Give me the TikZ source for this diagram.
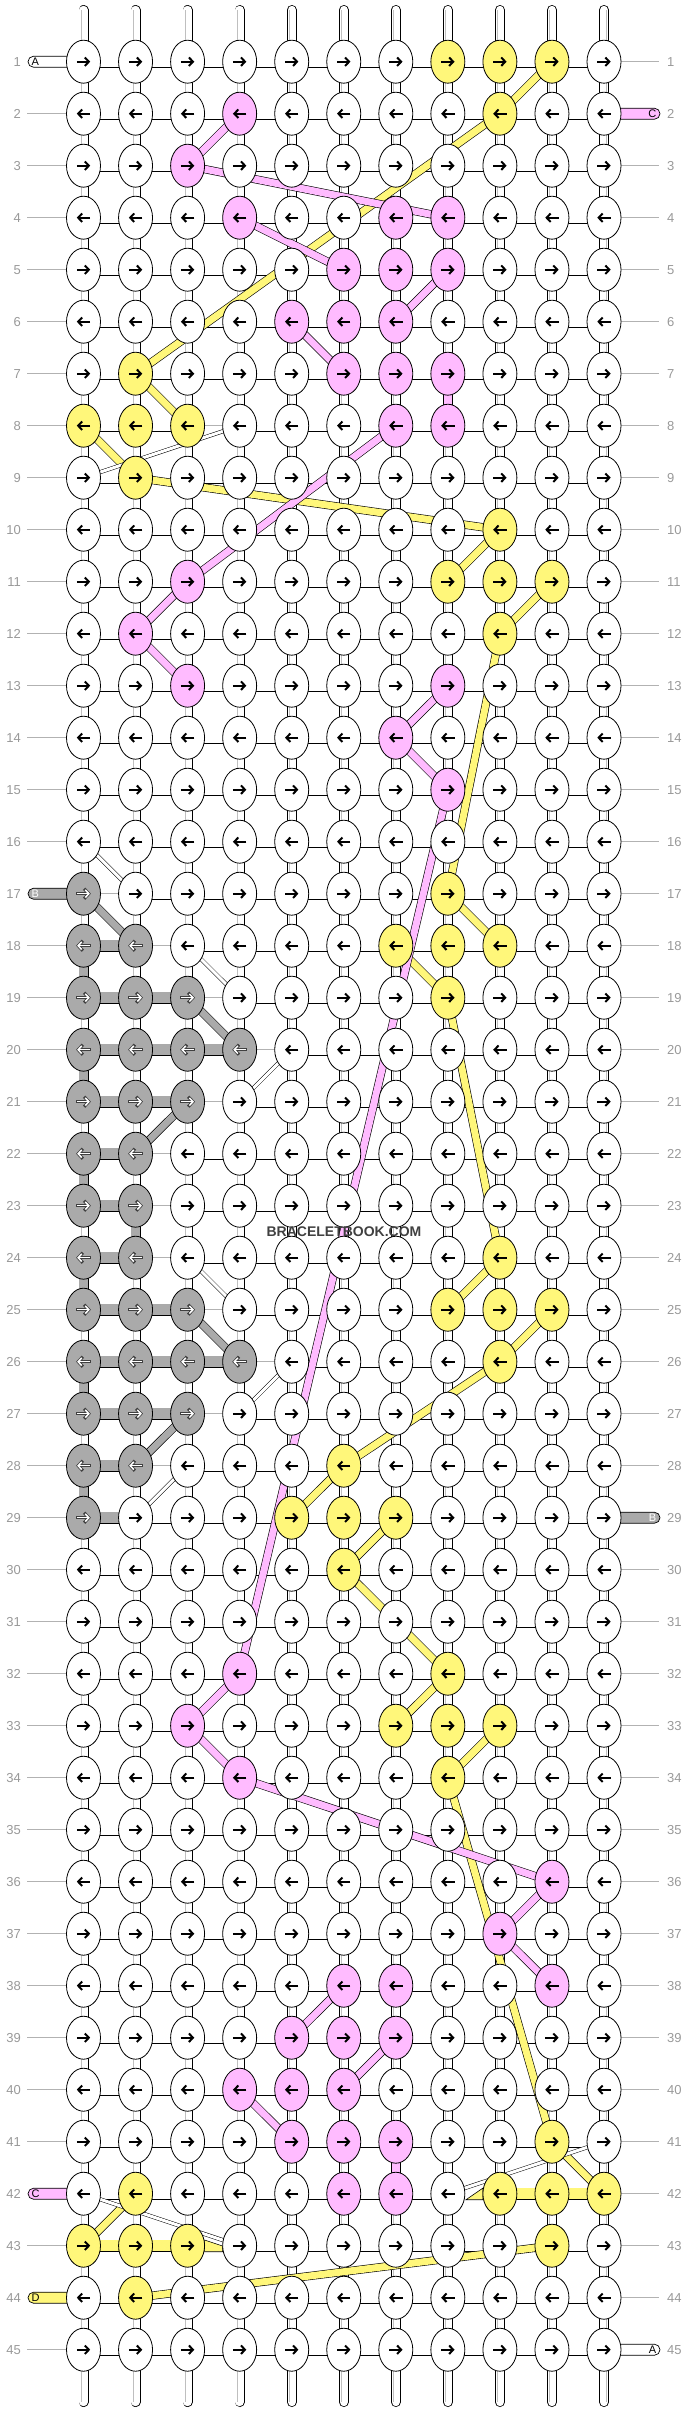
\documentclass[tikz,border=0pt]{standalone}
\usepackage{fontspec}
\setmainfont{Liberation Sans}
\usetikzlibrary{shapes.geometric, arrows.meta, positioning}
\usepackage{xcolor}
\definecolor{pkn}{HTML}{FFBBFF}
\definecolor{ykn}{HTML}{FFF77A}
\definecolor{gkn}{HTML}{AAAAAA}
\definecolor{numgray}{HTML}{999999}
\pgfdeclarelayer{strings}
\pgfdeclarelayer{threads}
\pgfsetlayers{strings,threads,main}
\newcommand\kx[1]{83.5+(#1-1)*52.05}
\newcommand\ky[1]{61.7+(#1-1)*52}
\def\gname{gkn}
\tikzset{
    knot/.style={
        ellipse, draw=black, line width=0.8pt, fill=white,
        minimum width=34pt, minimum height=43pt, inner sep=0pt
    },
    tube/.style={
        draw=black, line width=0.8pt, double=white, double distance=8.4pt, line cap=round
    },
    tubecore/.style={
        draw=black!25, line width=0.5pt, double=white, double distance=4pt
    },
    hbar/.style={
        draw=black, line width=0.7pt, double=white, double distance=10.6pt
    },
    vbar/.style={
        draw=black, line width=0.8pt, double distance=8.4pt
    },
    band/.style={
        draw=black, line width=0.6pt, double distance=7pt
    },
    pband/.style={band, double=pkn},
    yband/.style={band, double=ykn},
    gband/.style={band, double=gkn},
    wband/.style={
        draw=black, line width=0.5pt, double=white, double distance=3pt
    },
    rowline/.style={draw=black!30, line width=0.8pt},
    rownum/.style={text=numgray, font=\fontsize{13}{13}\selectfont, inner sep=0pt},
    tab/.style={draw=black, line width=0.7pt, rounded corners=5.5pt},
    tablabel/.style={font=\fontsize{11}{11}\selectfont, inner sep=0pt},
    arrowfg/.style={line width=2pt, -{Straight Barb[length=4pt,width=8.5pt]}},
    arrowbg/.style={draw=black!75, line width=3.2pt, -{Straight Barb[length=4.6pt,width=10pt]}},
    arrowwh/.style={draw=white, line width=1.5pt, -{Straight Barb[length=3.6pt,width=7.6pt]}}
}

\begin{document}
\begin{tikzpicture}[x=1pt, y=-1pt]
    \useasboundingbox (0,0) rectangle (688,2412);

    % ── colour map ──
    \foreach \r/\c in {2/4,3/3,4/4,4/7,4/8,5/6,5/7,5/8,6/5,6/6,6/7,7/6,7/7,7/8,8/7,8/8,
        11/3,12/2,13/3,13/8,14/7,15/8,32/4,33/3,34/4,36/10,37/9,38/10,38/6,38/7,
        39/5,39/6,39/7,40/4,40/5,40/6,41/5,41/6,41/7,42/6,42/7}
        {\expandafter\gdef\csname kc-\r-\c\endcsname{pkn}}
    \foreach \r/\c in {1/8,1/9,1/10,2/9,7/2,8/1,8/2,8/3,9/2,10/9,11/8,11/9,11/10,12/9,
        17/8,18/7,18/8,18/9,19/8,24/9,25/8,25/9,25/10,26/9,28/6,29/5,29/6,29/7,30/6,
        32/8,33/7,33/8,33/9,34/8,41/10,42/9,42/10,42/11,43/10,42/2,43/1,43/2,43/3,44/2}
        {\expandafter\gdef\csname kc-\r-\c\endcsname{ykn}}
    \foreach \r/\n in {17/1,18/2,19/3,20/4,21/3,22/2,23/2,24/2,25/3,26/4,27/3,28/2,29/1}
        {\foreach \c in {1,...,\n}{\expandafter\gdef\csname kc-\r-\c\endcsname{gkn}}}

    % ── knots ──
    \foreach \r in {1,...,45}{
        \ifodd\r\relax\def\kdir{1}\else\def\kdir{(-1)}\fi
        \foreach \c in {1,...,11}{
            \edef\kfill{\ifcsname kc-\r-\c\endcsname\csname kc-\r-\c\endcsname\else white\fi}
            \node[knot, fill=\kfill] (k-\r-\c) at ({\kx{\c}},{\ky{\r}}) {};
            \ifx\kfill\gname
                \draw[arrowbg] ([xshift={-7.2pt*\kdir}]k-\r-\c.center) -- ([xshift={7.4pt*\kdir}]k-\r-\c.center);
                \draw[arrowwh] ([xshift={-6.2pt*\kdir}]k-\r-\c.center) -- ([xshift={6.4pt*\kdir}]k-\r-\c.center);
            \else
                \draw[arrowfg] ([xshift={-6.7pt*\kdir}]k-\r-\c.center) -- ([xshift={6.7pt*\kdir}]k-\r-\c.center);
            \fi
        }
    }

    % ── base strings and rows ──
    \begin{pgfonlayer}{strings}
        \foreach \c in {1,...,11}{
            \coordinate (top-\c) at ({\kx{\c}},10);
            \coordinate (bot-\c) at ({\kx{\c}},2402);
            \draw[tube] (top-\c) -- (bot-\c);
            \draw[tubecore] (top-\c) -- (bot-\c);
        }
        \foreach \r in {1,...,45}
            \draw[hbar] (k-\r-1.center) -- (k-\r-11.center);

        % coloured pieces of the rows
        \foreach \r/\n in {18/2,19/3,20/4,21/3,22/2,23/2,24/2,25/3,26/4,27/3,28/2,29/2}
            \draw[hbar, double=gkn] (k-\r-1.center) -- (k-\r-\n.center);
        \draw[hbar, double=ykn] (k-42-9.center) -- (k-42-11.center);
        \draw[hbar, double=ykn] (k-43-1.center) -- (k-43-3.center);
        \foreach \a/\b/\col in {18/19/gkn,20/21/gkn,22/23/gkn,24/25/gkn,26/27/gkn,28/29/gkn}
            \draw[vbar, double=\col] (k-\a-1.center) -- (k-\b-1.center);
        \draw[vbar, double=gkn] (k-23-2.center) -- (k-24-2.center);
        \draw[vbar, double=pkn] (k-7-8.center) -- (k-8-8.center);
        \draw[vbar, double=pkn] (k-41-7.center) -- (k-42-7.center);

        % open gaps
        \foreach \r/\a/\b in {8/3/4,17/1/2,18/2/3,19/3/4,20/4/5,21/3/4,22/2/3,23/2/3,
            24/2/3,25/3/4,26/4/5,27/3/4,28/2/3}{
            \draw[white, line width=13pt] (k-\r-\a.center) -- (k-\r-\b.center);
            \draw[rowline] (k-\r-\a.center) -- (k-\r-\b.center);
        }
        \draw[white, line width=13pt] (k-42-8.center) -- (k-42-9.center);
        \draw[white, line width=13pt] (k-43-3.center) -- (k-43-4.center);
        \filldraw[fill=ykn, draw=black, line width=0.6pt] (466,2199.7) -- (483,2188) -- (483,2199.7) -- cycle;
        \filldraw[fill=ykn, draw=black, line width=0.6pt] (204.6,2240) -- (222.6,2246) -- (222.6,2251.7) -- (204.6,2251.7) -- cycle;

        % row lines
        \foreach \r in {2,3,...,16,18,19,...,41,43,45}{
            \coordinate (ll-\r) at (27,{\ky{\r}});
            \draw[rowline] (ll-\r) -- (k-\r-1);
        }
        \foreach \r in {1,3,4,...,28,30,31,...,44}{
            \coordinate (lr-\r) at (659,{\ky{\r}});
            \draw[rowline] (k-\r-11) -- (lr-\r);
        }

        % string ends
        \foreach \r/\col/\lab/\tcol in {1/white/A/black,17/gkn/B/white,42/pkn/C/black,44/ykn/D/black}{
            \coordinate (tl-\r) at (28,{\ky{\r}});
            \draw[tab, fill=\col] ([yshift=5.5pt]tl-\r) rectangle ([yshift=-5.5pt]k-\r-1.center);
            \node[tablabel, text=\tcol, anchor=west] (tll-\r) at ([xshift=3.5pt]tl-\r) {\lab};
        }
        \foreach \r/\col/\lab/\tcol in {2/pkn/C/black,29/gkn/B/white,45/white/A/black}{
            \coordinate (tr-\r) at (660,{\ky{\r}});
            \draw[tab, fill=\col] ([yshift=5.5pt]k-\r-11.center) rectangle ([yshift=-5.5pt]tr-\r);
            \node[tablabel, text=\tcol, anchor=east] (trl-\r) at ([xshift=-3.5pt]tr-\r) {\lab};
        }
    \end{pgfonlayer}

    % ── carried threads ──
    \begin{pgfonlayer}{threads}
        \foreach \a/\b/\c/\d in {1/10/2/9,2/9/7/2,7/2/8/3,8/1/9/2,9/2/10/9,10/9/11/8,
            11/10/12/9,12/9/17/8,17/8/18/9,18/7/19/8,19/8/24/9,24/9/25/8,25/10/26/9,
            26/9/28/6,28/6/29/5,29/7/30/6,30/6/32/8,32/8/33/7,33/9/34/8,34/8/41/10,
            41/10/42/11,43/10/44/2,42/2/43/1}
            \draw[yband] (k-\a-\b.center) -- (k-\c-\d.center);
        \foreach \a/\b/\c/\d in {2/4/3/3,3/3/4/8,4/4/5/6,5/8/6/7,6/5/7/6,8/7/11/3,
            11/3/12/2,12/2/13/3,13/8/14/7,14/7/15/8,15/8/32/4,32/4/33/3,33/3/34/4,
            34/4/36/10,36/10/37/9,37/9/38/10,38/6/39/5,39/7/40/6,40/4/41/5}
            \draw[pband] (k-\a-\b.center) -- (k-\c-\d.center);
        \foreach \a/\b/\c/\d in {17/1/18/2,19/3/20/4,21/3/22/2,25/3/26/4,27/3/28/2}
            \draw[gband] (k-\a-\b.center) -- (k-\c-\d.center);
        \foreach \a/\b/\c/\d in {16/1/17/2,18/3/19/4,20/5/21/4,24/3/25/4,26/5/27/4,
            28/3/29/2,9/1/8/4,42/1/43/4,42/8/41/11}
            \draw[wband] (k-\a-\b.center) -- (k-\c-\d.center);
    \end{pgfonlayer}

    % ── row numbers ──
    \foreach \r in {1,...,45}{
        \node[rownum, anchor=east] (nl-\r) at (21,{\ky{\r}}) {\r};
        \node[rownum, anchor=west] (nr-\r) at (667,{\ky{\r}}) {\r};
    }

    \node[font=\bfseries\fontsize{14}{14}\selectfont, text=black!75] (mark) at (344,1232) {BRACELETBOOK.COM};

\end{tikzpicture}
\end{document}
